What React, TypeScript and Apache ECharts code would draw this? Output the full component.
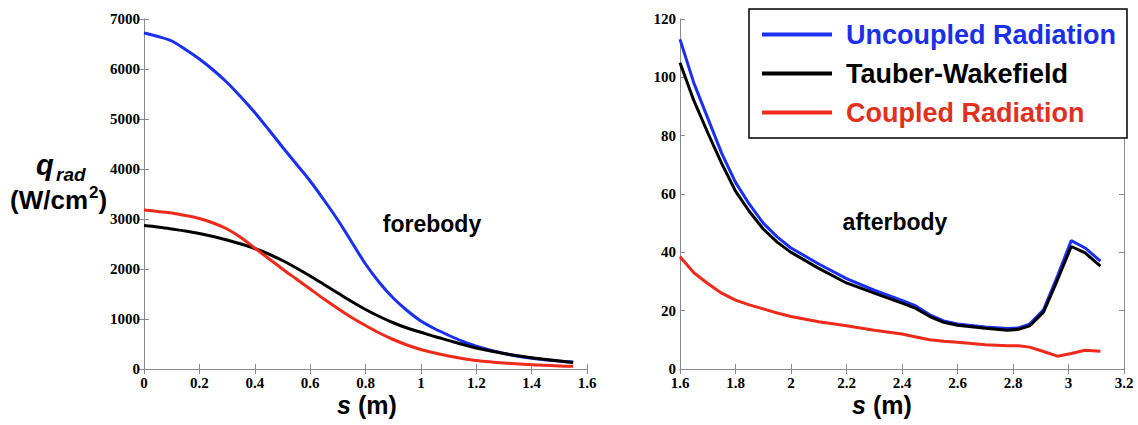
import React, { useEffect, useRef } from "react";
import * as echarts from "echarts";

// Forebody: arc length s (m) and radiative heating q_rad (W/cm²)
const sFore = [0, 0.05, 0.1, 0.15, 0.2, 0.25, 0.3, 0.35, 0.4, 0.45, 0.5, 0.55, 0.6, 0.65, 0.7, 0.75, 0.8, 0.85, 0.9, 0.95, 1.0, 1.05, 1.1, 1.15, 1.2, 1.3, 1.4, 1.5, 1.55];
const uncoupledFore = [6720, 6650, 6560, 6390, 6200, 5980, 5730, 5440, 5130, 4790, 4440, 4100, 3760, 3380, 2980, 2540, 2100, 1730, 1420, 1170, 960, 805, 675, 555, 455, 310, 215, 160, 140];
const tauberFore = [2870, 2840, 2800, 2760, 2710, 2650, 2580, 2500, 2410, 2300, 2170, 2020, 1860, 1690, 1520, 1350, 1190, 1050, 925, 820, 735, 650, 572, 492, 420, 310, 225, 160, 130];
const coupledFore = [3180, 3150, 3120, 3070, 3010, 2920, 2800, 2630, 2420, 2210, 2000, 1800, 1600, 1400, 1210, 1030, 870, 720, 590, 480, 390, 320, 260, 210, 170, 120, 85, 62, 55];

// Afterbody
const sAft = [1.6, 1.65, 1.7, 1.75, 1.8, 1.85, 1.9, 1.95, 2.0, 2.1, 2.2, 2.3, 2.4, 2.45, 2.5, 2.55, 2.6, 2.7, 2.78, 2.82, 2.86, 2.91, 2.96, 3.01, 3.06, 3.115];
const uncoupledAft = [113, 98, 86, 74, 64, 56.5, 50, 45.3, 41.5, 36, 31, 27, 23.5, 21.6, 18.6, 16.5, 15.4, 14.4, 13.9, 14.1, 15.4, 20.3, 31.8, 44, 41.5, 37];
const tauberAft = [105, 92, 81, 70.5, 61, 54, 48, 43.5, 40, 34.5, 29.5, 26, 22.6, 20.8, 18, 16, 15, 14, 13.3, 13.6, 14.8, 19.5, 30.5, 42, 39.8, 35.3];
const coupledAft = [38.5, 33, 29.3, 26, 23.6, 22, 20.6, 19.2, 18, 16.2, 14.8, 13.3, 12, 11, 10, 9.5, 9.2, 8.3, 8, 8, 7.5, 6, 4.4, 5.3, 6.4, 6.1];

const seriesNames = ["Uncoupled Radiation", "Tauber-Wakefield", "Coupled Radiation"];
const lineColors = ["#1a2ff0", "#000000", "#ee2a1a"];
const legendTextColors = ["#1a30e8", "#000000", "#e0301e"];

const foreTicks = { min: 0, max: 1.6, interval: 0.2 };
const aftTicks = { min: 1.6, max: 3.2, interval: 0.2 };
const foreQ = { min: 0, max: 7000, interval: 1000 };
const aftQ = { min: 0, max: 120, interval: 20 };

const pair = (xs: number[], ys: number[]) => xs.map((x, i) => [x, ys[i]]);

const AXIS_GRAY = "#8c8c8c";
const SERIF = "'Liberation Serif', 'Times New Roman', serif";
const SANS = "'Liberation Sans', Arial, Helvetica, sans-serif";

const tickFont = {
  fontFamily: SERIF,
  fontWeight: "bold" as const,
  fontSize: 15,
  lineHeight: 14,
  color: "#000",
};

const plainNumber = (v: number) => String(Number(v.toFixed(2)));

type Range = { min: number; max: number; interval: number };

function axisBase(gridIndex: number, r: Range) {
  return {
    type: "value",
    gridIndex,
    min: r.min,
    max: r.max,
    interval: r.interval,
    axisLine: { show: true, lineStyle: { color: AXIS_GRAY, width: 1 } },
    axisTick: { show: true, inside: true, length: 5, lineStyle: { color: AXIS_GRAY } },
    splitLine: { show: false },
  };
}

const mainX = (g: number, r: Range) => ({
  ...axisBase(g, r),
  position: "bottom",
  axisLabel: { ...tickFont, margin: 7, formatter: plainNumber },
});
const mirrorX = (g: number, r: Range) => ({ ...axisBase(g, r), position: "top", axisLabel: { show: false } });
const mainY = (g: number, r: Range) => ({
  ...axisBase(g, r),
  position: "left",
  axisLabel: { ...tickFont, margin: 4, formatter: plainNumber },
});
const mirrorY = (g: number, r: Range) => ({ ...axisBase(g, r), position: "right", axisLabel: { show: false } });

const boldSans = (size: number, lineHeight: number, italic = false) => ({
  fontFamily: SANS,
  fontWeight: "bold",
  fontStyle: italic ? "italic" : "normal",
  fontSize: size,
  lineHeight,
  fill: "#000",
  verticalAlign: "middle",
});

// "s (m)" under a panel, starting at x
function axisTitle(x: number) {
  return [
    { type: "text", x, y: 404.5, style: { text: "s", ...boldSans(25, 22, true) } },
    { type: "text", x: x + 21, y: 404.5, style: { text: "(m)", ...boldSans(25, 22) } },
  ];
}

export default function App() {
  const ref = useRef<HTMLDivElement>(null);

  useEffect(() => {
    if (!ref.current) return;
    const chart = echarts.init(ref.current, undefined, { renderer: "svg" });

    const foreData = [uncoupledFore, tauberFore, coupledFore];
    const aftData = [uncoupledAft, tauberAft, coupledAft];

    const series: any[] = [];
    foreData.forEach((ys, i) => {
      series.push({
        name: seriesNames[i],
        type: "line",
        xAxisIndex: 0,
        yAxisIndex: 0,
        data: pair(sFore, ys),
        smooth: 0.3,
        showSymbol: false,
        lineStyle: { color: lineColors[i], width: 3 },
        itemStyle: { color: lineColors[i] },
      });
    });
    aftData.forEach((ys, i) => {
      series.push({
        name: seriesNames[i],
        type: "line",
        xAxisIndex: 2,
        yAxisIndex: 2,
        data: pair(sAft, ys),
        showSymbol: false,
        lineStyle: { color: lineColors[i], width: 3 },
        itemStyle: { color: lineColors[i] },
      });
    });

    const option: any = {
      animation: false,
      backgroundColor: "#ffffff",
      grid: [
        { left: 144, top: 19, width: 443, height: 350 },
        { left: 680, top: 19, width: 444, height: 350 },
      ],
      xAxis: [mainX(0, foreTicks), mirrorX(0, foreTicks), mainX(1, aftTicks), mirrorX(1, aftTicks)],
      yAxis: [mainY(0, foreQ), mirrorY(0, foreQ), mainY(1, aftQ), mirrorY(1, aftQ)],
      legend: {
        show: true,
        orient: "vertical",
        left: 749,
        top: 9,
        padding: [12, 11, 12, 13],
        backgroundColor: "#ffffff",
        borderColor: "#000000",
        borderWidth: 1.5,
        itemWidth: 70,
        itemHeight: 4,
        itemGap: 12,
        icon: "rect",
        selectedMode: false,
        data: seriesNames.map((n, i) => ({
          name: n,
          textStyle: {
            color: legendTextColors[i],
            fontFamily: SANS,
            fontWeight: "bold",
            fontSize: 27,
            padding: [0, 0, 0, 9],
          },
        })),
      },
      graphic: [
        { type: "text", x: 36, y: 165, style: { text: "q", ...boldSans(29, 22, true) } },
        { type: "text", x: 56, y: 174.5, style: { text: "rad", ...boldSans(19, 15, true) } },
        { type: "text", x: 10, y: 200, style: { text: "(W/cm", ...boldSans(26, 22) } },
        { type: "text", x: 89, y: 192, style: { text: "2", ...boldSans(17, 13) } },
        { type: "text", x: 98.5, y: 200, style: { text: ")", ...boldSans(26, 22) } },
        ...axisTitle(337),
        ...axisTitle(852),
        {
          type: "text",
          x: 432,
          y: 224,
          style: { text: "forebody", ...boldSans(23, 23), align: "center" },
        },
        {
          type: "text",
          x: 895,
          y: 222,
          style: { text: "afterbody", ...boldSans(23, 23), align: "center" },
        },
      ],
      series,
    };

    chart.setOption(option);
    return () => chart.dispose();
  }, []);

  return (
    <div
      ref={ref}
      style={{ position: "fixed", left: 0, top: 0, width: 1138, height: 425, background: "#fff" }}
    />
  );
}
